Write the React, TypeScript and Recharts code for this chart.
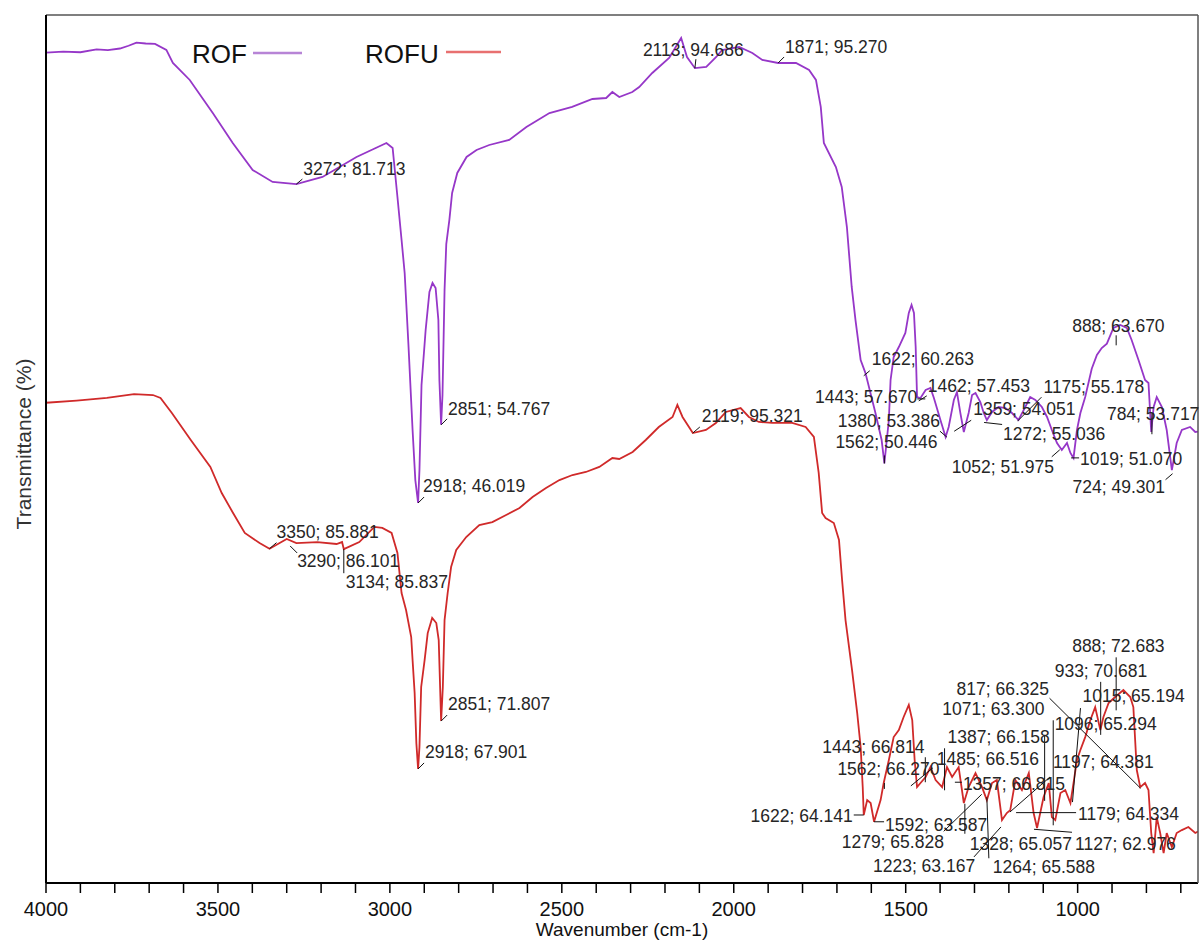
import { LineChart, Line, XAxis, YAxis, ReferenceDot } from "recharts";

const FONT = "Arial, 'Liberation Sans', Helvetica, sans-serif";
const ROF_COLOR = "#9637c8";
const ROFU_COLOR = "#d02a2a";

// ROF spectrum: wavenumber (cm-1) and transmittance (%)
const rofWavenumber = [
  4000, 3950, 3900, 3853, 3820, 3785, 3760, 3737, 3710, 3683, 3650, 3631, 3582, 3515, 3457, 3399, 3341, 3272,
  3196, 3097, 3010, 2992, 2978, 2966, 2957, 2946, 2934, 2926, 2918, 2914, 2908, 2896, 2885, 2876, 2867, 2859,
  2856, 2851, 2847, 2841, 2836, 2827, 2819, 2804, 2777, 2748, 2711, 2653, 2603, 2536, 2470, 2411, 2371, 2353,
  2333, 2295, 2275, 2237, 2188, 2153, 2136, 2113, 2080, 2051, 2034, 1984, 1946, 1917, 1871, 1819, 1781, 1761,
  1747, 1738, 1703, 1686, 1671, 1657, 1646, 1631, 1617, 1588, 1570, 1562, 1549, 1544, 1535, 1520, 1501, 1491,
  1483, 1476, 1471, 1467, 1457, 1442, 1428, 1418, 1399, 1384, 1375, 1360, 1351, 1341, 1331, 1317, 1307, 1297,
  1283, 1273, 1264, 1249, 1230, 1210, 1191, 1172, 1152, 1138, 1123, 1104, 1089, 1075, 1060, 1046, 1031, 1021,
  1012, 1002, 992, 978, 959, 944, 930, 915, 896, 876, 857, 843, 823, 804, 794, 786, 779, 770, 755, 741, 726,
  712, 697, 673, 658, 650,
];
const rofTransmittance = [
  96.42, 96.55, 96.47, 96.8, 96.7, 96.89, 97.2, 97.54, 97.45, 97.4, 96.73, 95.27, 93.37, 89.67, 86.32, 83.29,
  81.95, 81.71, 82.51, 84.75, 86.32, 85.76, 80.27, 75.46, 71.76, 63.7, 54.19, 48.59, 46.02, 49.71, 59.23, 65.38,
  69.64, 70.65, 70.09, 66.5, 59.79, 54.77, 58.11, 69.86, 75.0, 77.7, 80.72, 82.96, 84.75, 85.53, 86.09, 86.65,
  88.11, 89.67, 90.35, 91.24, 91.35, 92.02, 91.46, 92.02, 92.58, 94.15, 95.83, 98.07, 95.94, 94.69, 94.82,
  95.94, 96.72, 97.06, 96.39, 95.61, 95.27, 95.27, 94.49, 93.37, 90.35, 86.32, 83.63, 81.39, 76.91, 70.2, 66.5,
  62.02, 60.56, 56.09, 53.07, 50.45, 55.31, 59.79, 62.36, 63.48, 65.05, 67.29, 68.18, 67.29, 63.48, 57.88,
  57.77, 58.67, 58.89, 57.77, 55.31, 53.41, 54.53, 57.55, 58.44, 56.09, 53.97, 56.09, 58.11, 58.33, 57.32,
  56.09, 55.31, 56.21, 56.77, 56.65, 56.09, 55.31, 56.77, 57.88, 57.55, 56.77, 55.65, 54.19, 52.74, 51.95,
  52.74, 51.62, 51.06, 54.19, 56.09, 57.88, 61.05, 62.59, 63.37, 63.85, 65.61, 65.95, 65.61, 64.27, 62.02,
  59.79, 59.45, 53.97, 56.77, 57.88, 56.77, 54.19, 49.71, 52.74, 54.19, 54.53, 53.97, 54.0,
];

// ROFU spectrum: wavenumber (cm-1) and transmittance (%)
const rofuWavenumber = [
  4000, 3911, 3823, 3744, 3689, 3667, 3634, 3579, 3522, 3489, 3456, 3422, 3379, 3350, 3300, 3272, 3211, 3155,
  3139, 3134, 3089, 3045, 3022, 2995, 2978, 2966, 2953, 2938, 2934, 2928, 2923, 2918, 2914, 2909, 2899, 2890,
  2877, 2865, 2858, 2851, 2846, 2841, 2832, 2822, 2807, 2778, 2740, 2702, 2662, 2623, 2585, 2546, 2507, 2469,
  2430, 2391, 2353, 2333, 2294, 2256, 2218, 2178, 2164, 2149, 2119, 2081, 2052, 2023, 1980, 1956, 1927, 1888,
  1830, 1791, 1767, 1753, 1743, 1733, 1709, 1694, 1685, 1675, 1656, 1641, 1631, 1625, 1622, 1612, 1602, 1592,
  1573, 1564, 1549, 1535, 1520, 1506, 1491, 1481, 1474, 1467, 1457, 1442, 1428, 1413, 1394, 1380, 1365, 1346,
  1331, 1317, 1297, 1278, 1264, 1249, 1235, 1220, 1206, 1196, 1181, 1162, 1142, 1128, 1118, 1099, 1084, 1075,
  1065, 1050, 1036, 1021, 1012, 1002, 992, 978, 963, 949, 934, 925, 910, 891, 867, 847, 838, 828, 818, 804,
  794, 786, 779, 770, 760, 750, 741, 726, 712, 697, 678, 658, 650,
];
const rofuTransmittance = [
  97.79, 97.96, 98.18, 98.5, 98.42, 98.18, 96.95, 94.75, 92.55, 90.42, 88.79, 87.16, 86.34, 85.88, 86.67,
  86.34, 86.42, 86.26, 86.42, 85.84, 86.42, 87.65, 87.57, 87.16, 85.53, 82.26, 80.87, 78.67, 76.79, 74.1,
  70.01, 67.9, 69.69, 74.59, 76.79, 78.99, 80.22, 79.81, 78.42, 71.81, 74.59, 80.05, 82.26, 84.38, 85.77,
  86.83, 87.81, 88.05, 88.63, 89.2, 90.1, 90.83, 91.48, 91.89, 92.14, 92.55, 93.28, 93.2, 93.77, 94.75, 95.81,
  96.63, 97.61, 96.63, 95.32, 95.57, 96.14, 97.04, 97.36, 96.63, 96.22, 96.14, 96.14, 95.81, 95.0, 92.06,
  88.79, 88.38, 87.97, 86.59, 83.32, 80.05, 75.97, 72.46, 69.69, 66.42, 64.14, 65.36, 65.12, 63.59, 65.36,
  66.75, 68.63, 70.5, 71.08, 72.14, 73.12, 71.89, 68.63, 66.42, 66.75, 67.24, 68.05, 66.99, 66.42, 68.05,
  67.24, 68.05, 65.12, 66.42, 67.56, 66.42, 65.36, 66.75, 66.99, 63.73, 64.3, 64.54, 66.99, 66.18, 67.56,
  64.3, 63.08, 65.61, 66.75, 63.97, 63.73, 65.93, 66.18, 65.12, 66.75, 68.63, 69.44, 70.5, 71.89, 72.95,
  71.08, 72.14, 73.28, 73.77, 74.34, 73.77, 72.95, 67.81, 66.42, 66.75, 66.18, 62.67, 61.03, 63.97, 62.67,
  61.03, 62.67, 61.52, 62.67, 62.91, 63.16, 62.67, 62.8,
];

// labelled peaks
const rofPeakWavenumber = [3272, 2918, 2851, 2113, 1871, 1622, 1443, 1462, 1380, 1562, 1359, 1272, 1052, 1175, 1019, 888, 784, 724];
const rofPeakT = [81.713, 46.019, 54.767, 94.686, 95.27, 60.263, 57.67, 57.453, 53.386, 50.446, 54.051, 55.036, 51.975, 55.178, 51.07, 63.67, 53.717, 49.301];

const rofuPeakWavenumber = [
  3350, 3290, 3134, 2918, 2851, 2119, 888, 933, 817, 1071, 1015, 1096, 1387, 1443, 1562, 1485, 1357, 1197,
  1179, 1622, 1592, 1279, 1328, 1127, 1223, 1264,
];
const rofuPeakT = [
  85.881, 86.101, 85.837, 67.901, 71.807, 95.321, 72.683, 70.681, 66.325, 63.3, 65.194, 65.294, 66.158,
  66.814, 66.27, 66.516, 66.815, 64.381, 64.334, 64.141, 63.587, 65.828, 65.057, 62.976, 63.167, 65.588,
];

const xTicks = [
  4000, 3900, 3800, 3700, 3600, 3500, 3400, 3300, 3200, 3100, 3000, 2900, 2800, 2700, 2600, 2500, 2400, 2300,
  2200, 2100, 2000, 1900, 1800, 1700, 1600, 1500, 1400, 1300, 1200, 1100, 1000, 900, 800, 700,
];
const xTickLabels = [4000, 3500, 3000, 2500, 2000, 1500, 1000];

// label placement: [text dx, text dy, leader dx, leader dy, anchor]
type Layout = [number, number, number, number, "start" | "end"];
const rofLabelLayout: Layout[] = [
  [7, -9, 6, -5, "start"],
  [5, -11, 6, -6, "start"],
  [7, -10, 6, -6, "start"],
  [-52, -12, 1, -9, "start"],
  [7, -10, 6, -6, "start"],
  [8, -11, 6, -5, "start"],
  [-8, 4, -8, 0, "end"],
  [9, -9, 8, -5, "start"],
  [-7, -10, -7, -6, "end"],
  [-49, -15, 0, -8, "start"],
  [19, -16, 17, -11, "start"],
  [19, 18, 18, 2, "start"],
  [-108, 23, -8, 7, "start"],
  [26, -28, 24, -24, "start"],
  [9, 7, 8, 0, "start"],
  [-44, -13, 0, -10, "start"],
  [-45, -14, 0, -21, "start"],
  [-100, 19, -7, 6, "start"],
];
const rofuLabelLayout: Layout[] = [
  [7, -11, 7, -6, "start"],
  [7, 21, 7, 7, "start"],
  [2, 39, 0, 24, "start"],
  [7, -11, 6, -6, "start"],
  [7, -11, 6, -6, "start"],
  [9, -11, 7, -6, "start"],
  [-44, -58, 0, -53, "start"],
  [-46, -58, 0, -53, "start"],
  [-184, -93, -91, -90, "start"],
  [-111, -110, 0, -105, "start"],
  [10, -100, 8, -94, "start"],
  [10, -71, 0, -66, "start"],
  [3, -47, 0, -42, "start"],
  [-103, -29, 0, -25, "start"],
  [-47, -14, 0, -6, "start"],
  [26, -21, 22, -18, "start"],
  [8, 8, 7, 0, "start"],
  [43, -44, 40, -35, "start"],
  [62, 7, 60, 0, "start"],
  [-11, 7, -10, 0, "end"],
  [11, 9, 10, 0, "start"],
  [-140, 54, -38, 37, "start"],
  [5, 46, 0, 30, "start"],
  [41, 21, 38, 3, "start"],
  [-128, 45, -27, 30, "start"],
  [6, 76, 2, 61, "start"],
];

const rofData = rofWavenumber.map((wn, i) => ({ wn, t: rofTransmittance[i] }));
const rofuData = rofuWavenumber.map((wn, i) => ({ wn, t: rofuTransmittance[i] }));

const makeAnnotation = (text: string, layout: Layout) => (props: any) => {
  const { cx, cy } = props;
  if (cx == null || cy == null) return <g />;
  const [dx, dy, lx, ly, anchor] = layout;
  return (
    <g>
      <line x1={cx} y1={cy} x2={cx + lx} y2={cy + ly} stroke="#111" strokeWidth={1} />
      <text x={cx + dx} y={cy + dy} textAnchor={anchor} fontSize={17.5} fontFamily={FONT} fill="#262626">
        {text}
      </text>
    </g>
  );
};

const renderXTick = (props: any) => {
  const { x, y, payload } = props;
  if (!xTickLabels.includes(payload.value)) return <g />;
  return (
    <text x={x} y={y} dy={23} textAnchor="middle" fontSize={20} fontFamily={FONT} fill="#111">
      {payload.value}
    </text>
  );
};

const renderXLabel = (props: any) => {
  const { viewBox } = props;
  return (
    <text x={viewBox.x + viewBox.width / 2} y={viewBox.y + 53} textAnchor="middle" fontSize={19} fontFamily={FONT} fill="#111">
      Wavenumber (cm-1)
    </text>
  );
};

const renderYLabel = (props: any) => {
  const { viewBox } = props;
  const cy = viewBox.y + viewBox.height / 2 - 5;
  return (
    <text x={31} y={cy} transform={`rotate(-90 31 ${cy})`} textAnchor="middle" fontSize={21} fontFamily={FONT} fill="#333">
      Transmittance (%)
    </text>
  );
};

export default function App() {
  return (
    <div style={{ position: "absolute", left: 0, top: 0, width: 1200, height: 942, background: "#fff" }}>
      <LineChart width={1200} height={942} margin={{ top: 14, right: 1, bottom: 0, left: 0 }}>
        <XAxis
          dataKey="wn"
          type="number"
          domain={[650, 4000]}
          reversed
          allowDataOverflow
          ticks={xTicks}
          interval={0}
          tickSize={10}
          tickMargin={0}
          height={59}
          axisLine={{ stroke: "#000", strokeWidth: 2 }}
          tickLine={{ stroke: "#000", strokeWidth: 1.5 }}
          tick={renderXTick}
          label={renderXLabel}
        />
        <XAxis
          xAxisId="top"
          orientation="top"
          dataKey="wn"
          type="number"
          domain={[650, 4000]}
          reversed
          allowDataOverflow
          height={1}
          tick={false}
          tickLine={false}
          axisLine={{ stroke: "#555", strokeWidth: 1.5 }}
        />
        <YAxis
          yAxisId="rof"
          type="number"
          domain={[3.49, 100.64]}
          allowDataOverflow
          width={46}
          tick={false}
          tickLine={false}
          axisLine={{ stroke: "#000", strokeWidth: 2 }}
          label={renderYLabel}
        />
        <YAxis yAxisId="rofu" type="number" domain={[58.59, 129.44]} allowDataOverflow hide />
        <YAxis
          yAxisId="frame"
          orientation="right"
          type="number"
          domain={[0, 1]}
          width={1}
          tick={false}
          tickLine={false}
          axisLine={{ stroke: "#555", strokeWidth: 1.5 }}
        />
        <Line
          data={rofData}
          dataKey="t"
          yAxisId="rof"
          type="linear"
          stroke={ROF_COLOR}
          strokeWidth={1.8}
          dot={false}
          isAnimationActive={false}
        />
        <Line
          data={rofuData}
          dataKey="t"
          yAxisId="rofu"
          type="linear"
          stroke={ROFU_COLOR}
          strokeWidth={1.8}
          dot={false}
          isAnimationActive={false}
        />
        {rofPeakWavenumber.map((wn, i) => (
          <ReferenceDot
            key={`rof-${wn}`}
            x={wn}
            y={rofPeakT[i]}
            yAxisId="rof"
            r={1}
            shape={makeAnnotation(`${wn}; ${rofPeakT[i].toFixed(3)}`, rofLabelLayout[i])}
          />
        ))}
        {rofuPeakWavenumber.map((wn, i) => (
          <ReferenceDot
            key={`rofu-${wn}`}
            x={wn}
            y={rofuPeakT[i]}
            yAxisId="rofu"
            r={1}
            shape={makeAnnotation(`${wn}; ${rofuPeakT[i].toFixed(3)}`, rofuLabelLayout[i])}
          />
        ))}
      </LineChart>
      <svg width={1200} height={942} style={{ position: "absolute", left: 0, top: 0, pointerEvents: "none" }}>
        <text x={192} y={63} fontSize={26} fontFamily={FONT} fill="#111">ROF</text>
        <line x1={253} y1={53} x2={302} y2={53} stroke="#b784d6" strokeWidth={2.5} />
        <text x={365} y={63} fontSize={26} fontFamily={FONT} fill="#111">ROFU</text>
        <line x1={446} y1={52} x2={501} y2={52} stroke="#e87070" strokeWidth={2.5} />
      </svg>
    </div>
  );
}
